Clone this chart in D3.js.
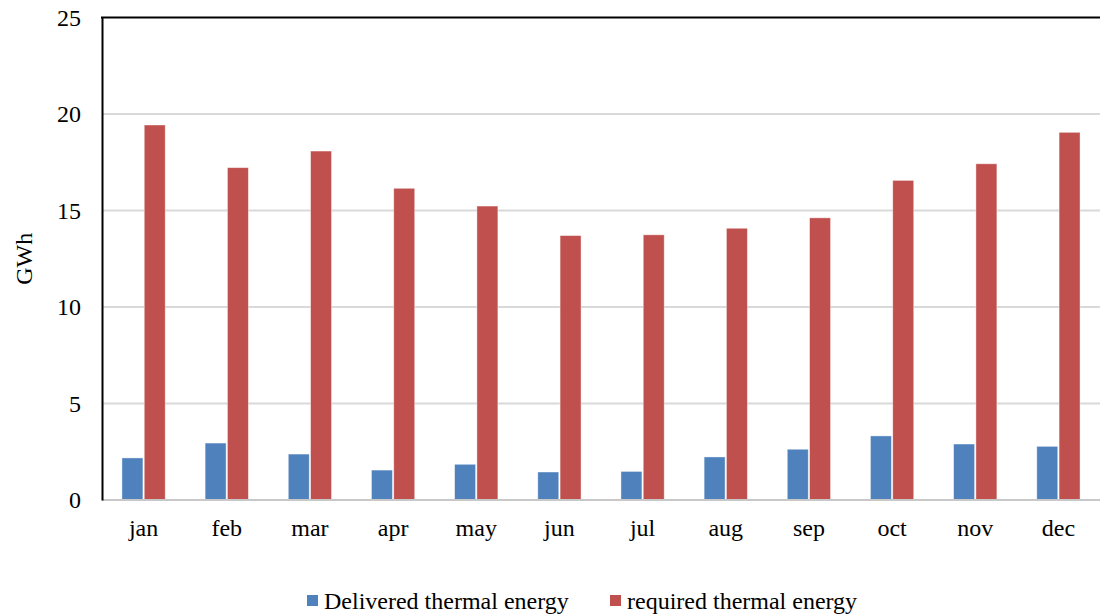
<!DOCTYPE html>
<html>
<head>
<meta charset="utf-8">
<script src="https://cdn.jsdelivr.net/npm/d3@7/dist/d3.min.js"></script>
<style>
  html, body { margin: 0; padding: 0; background: #fff; }
  svg, svg text { font-family: "Liberation Serif", "Times New Roman", serif !important; }
  svg { display: block; }
</style>
</head>
<body>
<svg id="chart" width="1100" height="616"></svg>
<script>
const months = ["jan","feb","mar","apr","may","jun","jul","aug","sep","oct","nov","dec"];
const delivered = [2.18, 2.95, 2.38, 1.55, 1.85, 1.45, 1.48, 2.23, 2.63, 3.32, 2.90, 2.78];
const required  = [19.43, 17.22, 18.08, 16.15, 15.23, 13.70, 13.74, 14.08, 14.62, 16.56, 17.42, 19.05];
const yTicks = [0, 5, 10, 15, 20, 25];
const seriesNames = ["Delivered thermal energy", "required thermal energy"];
const seriesColors = ["#4F81BD", "#C0504D"];

const svg = d3.select("#chart");
const margin = { left: 102, right: 0, top: 17.5, bottom: 116 };
const W = 1100, H = 616;
const FS = 24;

const x = d3.scaleBand().domain(months).range([margin.left, W - margin.right]).paddingInner(0.48).paddingOuter(0.24);
const xSub = d3.scaleBand().domain([0, 1]).range([0, x.bandwidth()]).paddingInner(0.06);
const y = d3.scaleLinear().domain([0, 25]).range([H - margin.bottom, margin.top]);

// horizontal gridlines
svg.append("g").selectAll("line").data(yTicks.filter(d => d > 0 && d < 25)).join("line")
  .attr("x1", margin.left).attr("x2", W)
  .attr("y1", d => y(d)).attr("y2", d => y(d))
  .attr("stroke", "#d9d9d9").attr("stroke-width", 2);

// bars
const rows = months.map((m, i) => ({ m, v: [delivered[i], required[i]] }));
const groups = svg.append("g").selectAll("g").data(rows).join("g")
  .attr("transform", d => `translate(${x(d.m)},0)`);
groups.selectAll("rect").data(d => d.v.map((v, k) => ({ v, k }))).join("rect")
  .attr("x", d => xSub(d.k))
  .attr("width", xSub.bandwidth())
  .attr("y", d => y(d.v))
  .attr("height", d => y(0) - y(d.v))
  .attr("fill", d => seriesColors[d.k])
  .attr("stroke", "#ffffff").attr("stroke-opacity", 0.5).attr("stroke-width", 0.8);

// x axis baseline
svg.append("line")
  .attr("x1", margin.left).attr("x2", W)
  .attr("y1", y(0)).attr("y2", y(0))
  .attr("stroke", "#c8c8c8").attr("stroke-width", 2);

// top frame line
svg.append("line")
  .attr("x1", margin.left - 1).attr("x2", W)
  .attr("y1", y(25)).attr("y2", y(25))
  .attr("stroke", "#000").attr("stroke-width", 2);

// y axis
const yAxis = d3.axisLeft(y).tickValues(yTicks).tickSize(0).tickPadding(21).tickFormat(d3.format("d"));
const gy = svg.append("g").attr("transform", `translate(${margin.left},0)`).call(yAxis);
gy.attr("font-family", null);
gy.select(".domain").attr("stroke", "#000").attr("stroke-width", 2);
gy.selectAll("text").attr("font-size", FS).attr("fill", "#000");

// x axis labels
const xAxis = d3.axisBottom(x).tickSize(0).tickPadding(19);
const gx = svg.append("g").attr("transform", `translate(0,${y(0)})`).call(xAxis);
gx.attr("font-family", null);
gx.select(".domain").remove();
gx.selectAll("text").attr("font-size", FS).attr("fill", "#000");

// y axis title
svg.append("text")
  .attr("transform", `translate(32,${(y(0) + y(25)) / 2}) rotate(-90)`)
  .attr("text-anchor", "middle").attr("font-size", FS).attr("fill", "#000")
  .text("GWh");

// legend
const legendX = [307, 610];
const lg = svg.append("g").selectAll("g").data(seriesNames).join("g")
  .attr("transform", (d, i) => `translate(${legendX[i]},595)`);
lg.append("rect").attr("width", 11).attr("height", 11).attr("fill", (d, i) => seriesColors[i]);
lg.append("text").attr("x", 17).attr("y", 14).attr("font-size", FS).attr("fill", "#000").text(d => d);
</script>
</body>
</html>
